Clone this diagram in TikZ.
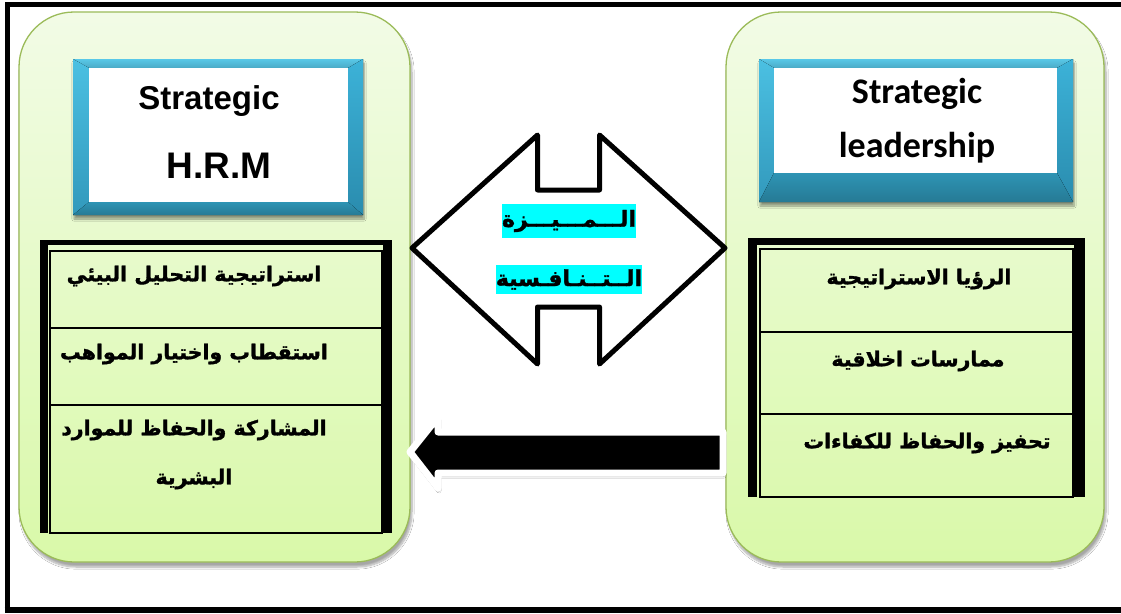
\documentclass[tikz,border=0pt]{standalone}
\usepackage{fontspec}
\setmainfont{Liberation Sans}
\newfontfamily\carl{Carlito}
\newfontfamily\arabicfont[Script=Arabic, BoldFeatures={FakeBold=1.5}]{DejaVu Sans}
\TeXXeTstate=1
\usetikzlibrary{shadows.blur}
\definecolor{panelborder}{HTML}{9BBB59}
\definecolor{paneltop}{HTML}{F2FBE6}
\definecolor{panelbot}{HTML}{D9F9A9}
\definecolor{bvtop}{HTML}{58C8E8}
\definecolor{bvleftA}{HTML}{4BC0E2}
\definecolor{bvleftB}{HTML}{3299BC}
\definecolor{bvrightA}{HTML}{3CB2D8}
\definecolor{bvrightB}{HTML}{2A8CAE}
\definecolor{bvbotA}{HTML}{2E94B4}
\definecolor{bvbotB}{HTML}{267A95}
\definecolor{hilite}{HTML}{00FFFF}
\newcommand\bevbox[8]{%
  \fill[bvbotB, blur shadow={shadow xshift=1pt, shadow yshift=-4pt, shadow blur steps=8, shadow opacity=40}] (#1,#2) rectangle (#3,#4);
  \fill[top color=bvtop, bottom color=bvtop!85!black] (#1,#2) -- (#3,#2) -- (#7,#6) -- (#5,#6) -- cycle;
  \fill[top color=bvleftA, bottom color=bvleftB] (#1,#2) -- (#5,#6) -- (#5,#8) -- (#1,#4) -- cycle;
  \fill[top color=bvrightA, bottom color=bvrightB] (#3,#2) -- (#7,#6) -- (#7,#8) -- (#3,#4) -- cycle;
  \fill[top color=bvbotA, bottom color=bvbotB] (#1,#4) -- (#5,#8) -- (#7,#8) -- (#3,#4) -- cycle;
  \fill[white] (#5,#6) rectangle (#7,#8);
}
\begin{document}
\begin{tikzpicture}[x=1pt,y=-1pt,
  panel/.style={draw=panelborder, line width=1.3pt, top color=paneltop, bottom color=panelbot,
     rounded corners=55pt, inner sep=0pt,
     blur shadow={shadow xshift=2pt, shadow yshift=-5pt, shadow blur steps=8, shadow opacity=35}},
  engtitle/.style={anchor=base, inner sep=0pt, font=\bfseries\fontsize{33}{40}\selectfont},
  cartitle/.style={anchor=base, inner sep=0pt, font=\carl\bfseries\fontsize{36}{40}\selectfont},
  artext/.style={inner sep=0pt, font=\arabicfont\bfseries\fontsize{20.5}{24}\selectfont},
  midtext/.style={inner sep=0pt, fill=hilite, font=\arabicfont\bfseries\fontsize{22}{24}\selectfont},
  bar/.style={fill=black},
  cell/.style={draw=black, line width=1.2pt},
  twoway/.style={draw=black, fill=white, line width=5pt, line join=round},
  flow/.style={draw=white, fill=black, line width=7pt, line join=round,
     blur shadow={shadow xshift=1pt, shadow yshift=-3pt, shadow blur steps=6, shadow opacity=45}}
]
\useasboundingbox (0,0) rectangle (1121,613);
\fill[white] (0,0) rectangle (1121,613);
% outer frame (open on the right)
\draw[line width=5pt] (1130,4.5) -- (7.5,4.5) -- (7.5,610);
\draw[line width=6pt] (4.5,610) -- (1130,610);

% panels
\node[panel, minimum width=391pt, minimum height=550pt] (lp) at (214.5,287) {};
\node[panel, minimum width=378pt, minimum height=550pt] (rp) at (915,287) {};

% header boxes
\bevbox{73}{59}{363}{215}{89}{68}{348}{202}
\node[engtitle] (lt1) at (209,109) {Strategic};
\node[engtitle, font=\bfseries\fontsize{37}{40}\selectfont] (lt2) at (219,178) {H.R.M};

\bevbox{759}{59}{1073}{202}{774}{68}{1057}{173}
\node[cartitle] (rt1) at (917,103) {Strategic};
\node[cartitle] (rt2) at (917,157) {leadership};

% left table
\fill[bar] (40,240) rectangle (48,533);
\fill[bar] (40,240) rectangle (392,245);
\fill[bar] (383,240) rectangle (392,533);
\draw[cell] (50,251) rectangle (382,533);
\draw[cell] (50,328) -- (382,328);
\draw[cell] (50,405) -- (382,405);
\node[artext] (l1) at (194,276) {\beginR استراتيجية التحليل البيئي\endR};
\node[artext] (l2) at (194,354) {\beginR استقطاب واختيار المواهب\endR};
\node[artext] (l3) at (194,430) {\beginR المشاركة والحفاظ للموارد\endR};
\node[artext] (l4) at (194,479) {\beginR البشرية\endR};

% right table
\fill[bar] (748,238) rectangle (757,497);
\fill[bar] (748,238) rectangle (1085,245);
\fill[bar] (1074,238) rectangle (1085,497);
\draw[cell] (760,249) rectangle (1073,497);
\draw[cell] (760,332) -- (1073,332);
\draw[cell] (760,414) -- (1073,414);
\node[artext] (r1) at (919,279) {\beginR الرؤيا الاستراتيجية\endR};
\node[artext] (r2) at (918,361) {\beginR ممارسات اخلاقية\endR};
\node[artext] (r3) at (927,443) {\beginR تحفيز والحفاظ للكفاءات\endR};

% two-way arrow
\draw[twoway] (412,248) -- (537.5,135) -- (537.5,190) -- (599.5,190) -- (599.5,135)
   -- (725,248) -- (599.5,364) -- (599.5,307) -- (537.5,307) -- (537.5,364) -- cycle;
\node[midtext, minimum width=132pt, minimum height=34pt] (m1) at (569,221) {\beginR الـــمـــيـــزة\endR};
\node[midtext, minimum width=124pt, minimum height=29pt] (m2) at (569,279.5) {\beginR الــتــنـافـسية\endR};

% flow arrow from right panel to left panel
\draw[flow] (410,452) -- (438,417) -- (438,432) -- (723,432) -- (723,473) -- (438,473) -- (438,488) -- cycle;
\end{tikzpicture}
\end{document}
